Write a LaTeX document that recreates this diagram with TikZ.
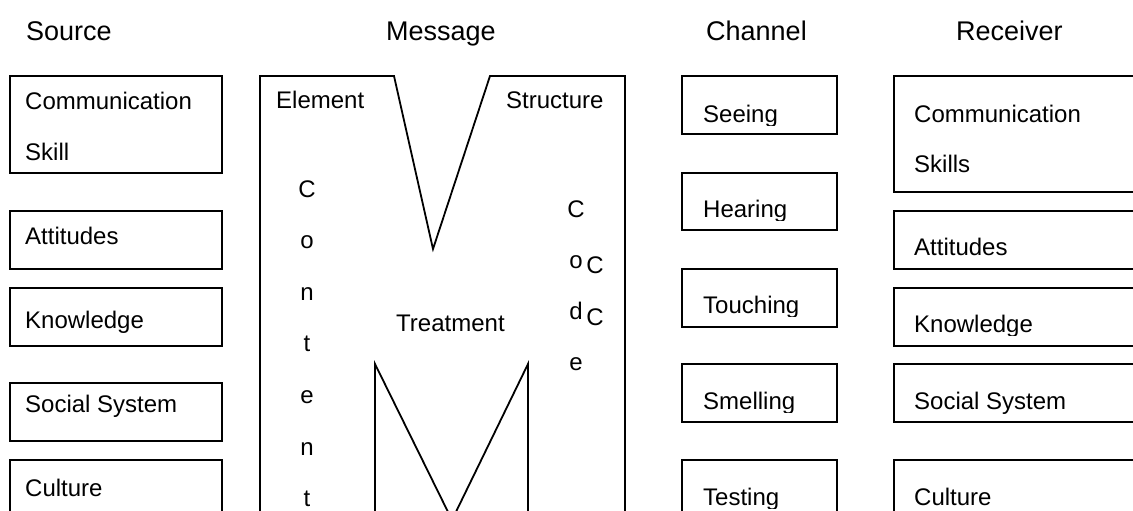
\documentclass[tikz,border=0pt]{standalone}
\usepackage{fontspec}
\setmainfont{Liberation Sans}
\tikzset{
    box/.style={draw=black, line width=1.8pt},
    label text/.style={anchor=base west, inner sep=0pt, font=\fontsize{24}{28}\selectfont},
    head text/.style={anchor=base west, inner sep=0pt, font=\fontsize{27}{32}\selectfont},
    letter/.style={anchor=base, inner sep=0pt, font=\fontsize{24}{28}\selectfont}
}
% texto cortado justo bajo la linea base
\newcommand{\cutlabel}[4]{%
    \begin{scope}
        \clip (#2-5,#3-40) rectangle (#2+300,#3+3);
        \node[label text] (#1) at (#2,#3) {#4};
    \end{scope}}

\begin{document}
\begin{tikzpicture}[x=1pt, y=-1pt]

\useasboundingbox (0,0) rectangle (1133,511);
\clip (0,0) rectangle (1133,511);

% Titulos de las columnas
\node[head text] (source) at (26,41) {Source};
\node[head text] (message) at (386,41) {Message};
\node[head text] (channel) at (706,41) {Channel};
\node[head text] (receiver) at (956,41) {Receiver};

% Columna Source
\draw[box] (10,76) rectangle (222,173);
\draw[box] (10,211) rectangle (222,269);
\draw[box] (10,288) rectangle (222,346);
\draw[box] (10,383) rectangle (222,441);
\draw[box] (10,460) rectangle (222,530);
\node[label text] (srcComm) at (25,110) {Communication};
\node[label text] (srcSkill) at (25,160) {Skill};
\node[label text] (srcAtt) at (25,244) {Attitudes};
\node[label text] (srcKnow) at (25,328) {Knowledge};
\node[label text] (srcSoc) at (25,412) {Social System};
\node[label text] (srcCult) at (25,496) {Culture};

% Columna Message
\draw[box] (260,530) -- (260,76) -- (394,76) -- (433,249) -- (490,76)
    -- (625,76) -- (625,530);
\draw[box] (375,530) -- (375,364) -- (452,520) -- (528,364) -- (528,530);
\node[label text] (element) at (276,109) {Element};
\node[label text] (structure) at (506,109) {Structure};
\node[label text] (treatment) at (396,331) {Treatment};
\foreach \ch [count=\i from 0] in {C,o,n,t,e,n,t}
    \node[letter] (content\i) at (307,197+51.6*\i) {\ch};
\foreach \ch [count=\i from 0] in {C,o,d,e}
    \node[letter] (code\i) at (576,217+51*\i) {\ch};
\node[letter] (codeC1) at (595,273) {C};
\node[letter] (codeC2) at (595,325) {C};

% Columna Channel
\draw[box] (682,76) rectangle (837,134);
\draw[box] (682,173) rectangle (837,230);
\draw[box] (682,269) rectangle (837,327);
\draw[box] (682,364) rectangle (837,422);
\draw[box] (682,460) rectangle (837,530);
\cutlabel{seeing}{703}{122}{Seeing}
\cutlabel{hearing}{703}{217}{Hearing}
\cutlabel{touching}{703}{313}{Touching}
\cutlabel{smelling}{703}{409}{Smelling}
\cutlabel{testing}{703}{505}{Testing}

% Columna Receiver
\draw[box] (894,76) rectangle (1150,192);
\draw[box] (894,211) rectangle (1150,269);
\draw[box] (894,288) rectangle (1150,346);
\draw[box] (894,364) rectangle (1150,422);
\draw[box] (894,460) rectangle (1150,530);
\node[label text] (rcvComm) at (914,122) {Communication};
\node[label text] (rcvSkill) at (914,172) {Skills};
\node[label text] (rcvAtt) at (914,255) {Attitudes};
\cutlabel{rcvKnow}{914}{332}{Knowledge}
\node[label text] (rcvSoc) at (914,409) {Social System};
\node[label text] (rcvCult) at (914,505) {Culture};

\end{tikzpicture}
\end{document}
